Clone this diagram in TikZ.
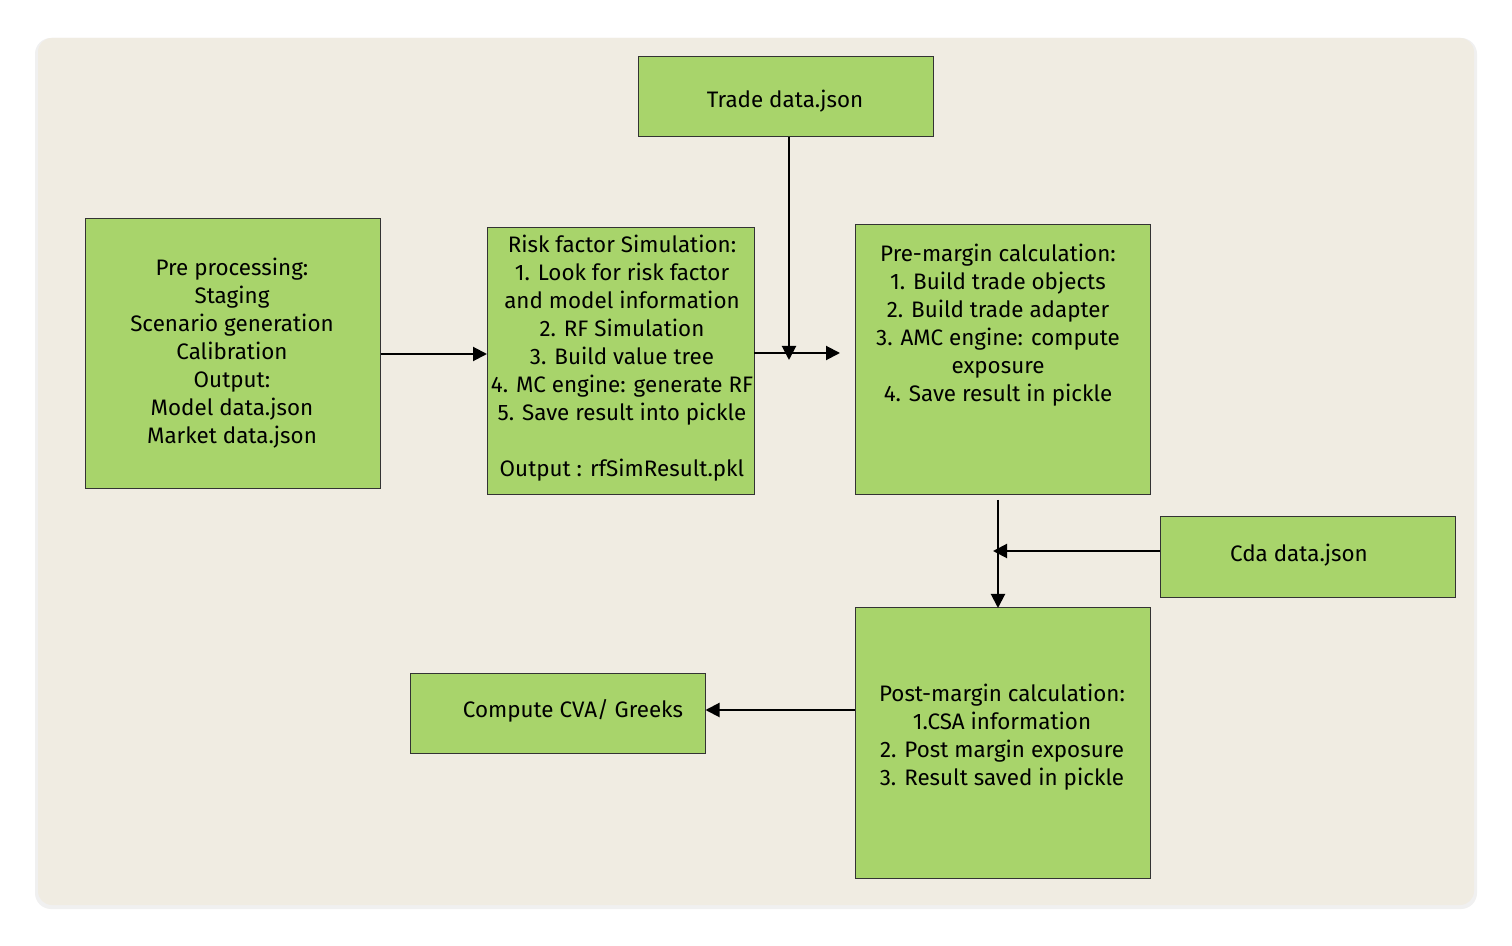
\documentclass[tikz,border=0pt]{standalone}
\usepackage{fontspec}
\setmainfont{Fira Sans}
\usetikzlibrary{arrows.meta}
\definecolor{paper}{HTML}{F0ECE2}
\definecolor{boxgreen}{HTML}{A8D46B}
\tikzset{
  gbox/.style={draw=black!80, line width=0.5pt, fill=boxgreen, inner sep=0pt, outer sep=0pt, minimum width=147.5pt},
  txt/.style={align=center, font=\fontsize{11.2}{14}\selectfont, inner sep=0pt},
  arr/.style={draw=black, line width=1pt, -{Triangle[length=7pt,width=7pt]}}
}
\begin{document}
\begin{tikzpicture}[x=0.5pt,y=-0.5pt]
\useasboundingbox (0,0) rectangle (1512,946);
\fill[white] (0,0) rectangle (1512,946);
\fill[black!6, rounded corners=8pt] (35,38) rectangle (1477,909);
\fill[paper, rounded corners=7pt] (38,38) rectangle (1474,905);

% boxes
\node[gbox, minimum height=40pt] (trade) at (785.5,97) {};
\node[gbox, minimum height=135pt] (pre) at (233,354) {};
\node[gbox, minimum width=133.5pt, minimum height=133.5pt] (risk) at (620.5,361.5) {};
\node[gbox, minimum height=135pt] (premargin) at (1002.5,360) {};
\node[gbox, minimum height=40.5pt] (cda) at (1307.5,557.5) {};
\node[gbox, minimum height=135pt] (post) at (1002.5,743) {};
\node[gbox, minimum height=40pt] (compute) at (558,714) {};

% texts
\node[txt] (tradetxt) at (785,101) {Trade data.json};
\node[txt, anchor=north] (pretxt) at (232,258) {Pre processing:\\Staging\\Scenario generation\\Calibration\\Output:\\Model data.json\\Market data.json};
\node[txt, anchor=north] (risktxt) at (622,235) {Risk factor Simulation:\\1. Look for risk factor\\and model information\\2. RF Simulation\\3. Build value tree\\4. MC engine: generate RF\\5. Save result into pickle\\[14pt]Output : rfSimResult.pkl};
\node[txt, anchor=north] (premtxt) at (998,244) {Pre-margin calculation:\\1. Build trade objects\\2. Build trade adapter\\3. AMC engine: compute\\exposure\\4. Save result in pickle};
\node[txt] (cdatxt) at (1299,555) {Cda data.json};
\node[txt, anchor=north] (posttxt) at (1002,684) {Post-margin calculation:\\1.CSA information\\2. Post margin exposure\\3. Result saved in pickle};
\node[txt] (computetxt) at (573,711) {Compute CVA/ Greeks};

% connectors
\coordinate (junc) at (789,360);
\coordinate (cdaend) at (993,551);
\draw[arr] (pre.east) -- (pre.east -| risk.west);
\draw[arr, shorten >=7.5pt] ([yshift=4.25pt]risk.east) -- ([yshift=4.25pt]risk.east -| premargin.west);
\draw[arr] (trade.south -| junc) -- (junc);
\draw[arr] ([xshift=-2.25pt,yshift=-2.5pt]premargin.south) -- ([xshift=-2.25pt]post.north);
\draw[arr] ([yshift=3.25pt]cda.west) -- ([yshift=3.25pt]cda.west -| cdaend);
\draw[arr] (post.west |- 0,710) -- (compute.east |- 0,710);
\end{tikzpicture}
\end{document}
